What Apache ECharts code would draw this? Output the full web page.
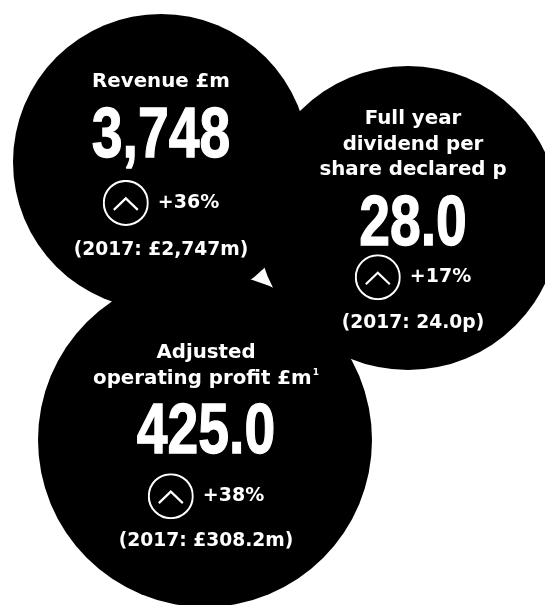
<!DOCTYPE html>
<html>
<head>
<meta charset="utf-8">
<style>
html, body { margin: 0; padding: 0; background: #fff; }
#chart { width: 545px; height: 605px; }
</style>
<script src="https://cdn.jsdelivr.net/npm/echarts@6/dist/echarts.min.js"></script>
</head>
<body>
<div id="chart"></div>
<script>
// KPI figures
const kpiTitles = ['Revenue £m', 'Full year\ndividend per\nshare declared p', 'Adjusted\noperating profit £m'];
const kpiValues = [3748, 28.0, 425.0];
const kpiDecimals = [0, 1, 1];
const changePct = [36, 17, 38];
const priorLabels = ['(2017: £2,747m)', '(2017: 24.0p)', '(2017: £308.2m)'];
const footnotes = ['', '', '1'];

// bubble layout (pixels on a 545 x 605 plane), kept apart from the data
const bubbles = [
  { x: 161, y: 162, r: 148, dx: 0, dy: 3.5, gaps: [8.75, 17, 12.5] },
  { x: 408, y: 218, r: 152, dx: 5, dy: 2.8, gaps: [8.25, 3, 11] },
  { x: 205, y: 440, r: 167, dx: 1, dy: 7, gaps: [7.75, 14, 10.5] }
]

const sans = 'DejaVu Sans'
const TITLE_H = 25.5
const NUM_H = 60
const ICON_H = 46
const PRIOR_H = 24
const NUM_SIZE = 70
const NUM_SCALE = 0.79

const iconUrl = 'data:image/svg+xml;utf8,' + encodeURIComponent(
  '<svg xmlns="http://www.w3.org/2000/svg" width="46" height="46" viewBox="0 0 46 46">' +
  '<circle cx="23" cy="23" r="22" fill="none" stroke="#fff" stroke-width="2"/>' +
  '<polyline points="11,30 23,18.5 35,30" fill="none" stroke="#fff" stroke-width="2.2"/></svg>')

function fmt(v, d) {
  return v.toLocaleString('en-GB', { minimumFractionDigits: d, maximumFractionDigits: d })
}

// offset of the big number's line from the bubble centre, following the label block
function numberOffset(i) {
  const b = bubbles[i]
  const n = kpiTitles[i].split('\n').length
  const blockH = n * TITLE_H + b.gaps[0] + NUM_H + b.gaps[1] + ICON_H + b.gaps[2] + PRIOR_H
  const top = b.dy - blockH / 2
  return top + n * TITLE_H + b.gaps[0] + NUM_H / 2
}

function buildLabel(i) {
  const b = bubbles[i]
  const lines = kpiTitles[i].split('\n').map(function(l, k, arr) {
    let s = '{t|' + l + '}'
    if (k === arr.length - 1 && footnotes[i]) s += '{sup|' + footnotes[i] + '}'
    return s
  })
  const text = lines.concat([
    '{g1| }',
    '{n| }',
    '{g2| }',
    '{icon|}{c|+' + changePct[i] + '%}',
    '{g3| }',
    '{p|' + priorLabels[i] + '}'
  ]).join('\n')
  return {
    show: true,
    position: 'inside',
    offset: [b.dx, b.dy],
    color: '#fff',
    align: 'center',
    verticalAlign: 'middle',
    formatter: text,
    rich: {
      t: { fontFamily: sans, fontWeight: 'bold', fontSize: 19.8, lineHeight: TITLE_H, color: '#fff' },
      sup: { fontFamily: sans, fontWeight: 'bold', fontSize: 9, lineHeight: TITLE_H, verticalAlign: 'top', color: '#fff', padding: [2, 0, 0, 1] },
      g1: { fontSize: 1, lineHeight: b.gaps[0] },
      g2: { fontSize: 1, lineHeight: b.gaps[1] },
      g3: { fontSize: 1, lineHeight: b.gaps[2] },
      n: { fontSize: 1, lineHeight: NUM_H },
      icon: { width: 46, height: ICON_H, lineHeight: ICON_H, backgroundColor: { image: iconUrl } },
      c: { fontFamily: sans, fontWeight: 'bold', fontSize: 19, lineHeight: ICON_H, color: '#fff', padding: [0, 0, 0, 9] },
      p: { fontFamily: sans, fontWeight: 'bold', fontSize: 18.7, lineHeight: PRIOR_H, color: '#fff' }
    }
  }
}

const chart = echarts.init(document.getElementById('chart'))
chart.setOption({
  animation: false,
  grid: { left: 0, right: 0, top: 0, bottom: 0 },
  xAxis: { type: 'value', min: 0, max: 545, show: false },
  yAxis: { type: 'value', min: 0, max: 605, inverse: true, show: false },
  series: [{
    type: 'scatter',
    clip: false,
    silent: true,
    itemStyle: { color: '#000', opacity: 1 },
    data: bubbles.map(function(b, i) {
      return {
        value: [b.x, b.y],
        symbolSize: b.r * 2,
        label: buildLabel(i)
      }
    })
  }, {
    // headline figures, set in a condensed cut
    type: 'custom',
    silent: true,
    z: 5,
    data: bubbles.map(function(b, i) { return [b.x, b.y, i] }),
    renderItem: function(params, api) {
      const i = api.value(2)
      const b = bubbles[i]
      const p = api.coord([api.value(0), api.value(1)])
      return {
        type: 'text',
        x: p[0] + b.dx,
        y: p[1] + numberOffset(i) + NUM_SIZE * 0.065,
        scaleX: NUM_SCALE,
        style: {
          text: fmt(kpiValues[i], kpiDecimals[i]),
          font: 'bold ' + NUM_SIZE + 'px "Liberation Sans"',
          fill: '#fff',
          stroke: '#fff',
          lineWidth: 1.3,
          align: 'center',
          verticalAlign: 'middle'
        }
      }
    }
  }]
})
</script>
</body>
</html>
